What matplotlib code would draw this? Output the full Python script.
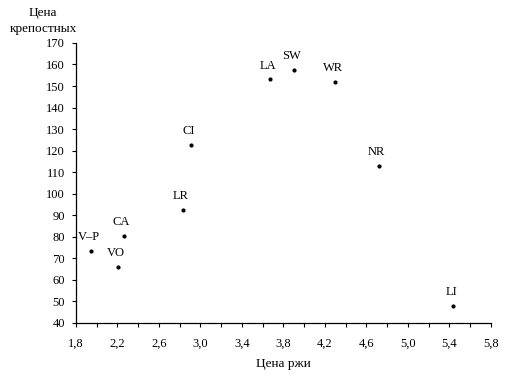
import matplotlib
matplotlib.use("Agg")
import matplotlib.pyplot as plt
from matplotlib.ticker import MultipleLocator, FixedLocator, FuncFormatter

# данные
regions = ["V–P", "VO", "CA", "LR", "CI", "LA", "SW", "WR", "NR", "LI"]
rye_price = [1.95, 2.21, 2.26, 2.83, 2.91, 3.67, 3.90, 4.30, 4.72, 5.44]
serf_price = [73.3, 66.0, 80.4, 92.6, 122.8, 153.1, 157.6, 151.9, 113.0, 47.8]
x_ticks = [1.8, 2.2, 2.6, 3.0, 3.4, 3.8, 4.2, 4.6, 5.0, 5.4, 5.8]

plt.rcParams["font.family"] = ["Liberation Serif", "DejaVu Serif"]

fig = plt.figure(figsize=(5.06, 3.77), dpi=100)
ax = fig.add_axes([0.150, 0.144, 0.820, 0.742])

ax.plot(rye_price, serf_price, "o", color="black", markersize=2.0, linestyle="none")

for name, x, y in zip(regions, rye_price, serf_price):
    ax.annotate(name, (x, y), xytext=(-1.5, 5.5), textcoords="offset points",
                ha="center", va="bottom", fontsize=9)

ax.set_xlim(1.8, 5.8)
ax.set_ylim(40, 170)
ax.xaxis.set_major_locator(FixedLocator(x_ticks))
ax.xaxis.set_minor_locator(MultipleLocator(0.2))
ax.yaxis.set_major_locator(MultipleLocator(10))
ax.xaxis.set_major_formatter(FuncFormatter(lambda v, p: f"{v:.1f}".replace(".", ",")))
ax.yaxis.set_major_formatter(FuncFormatter(lambda v, p: f"{v:.0f}"))

for s in ["top", "right"]:
    ax.spines[s].set_visible(False)
ax.spines["left"].set_linewidth(0.9)
ax.spines["bottom"].set_linewidth(0.9)
ax.tick_params(axis="both", which="both", direction="out", length=3, width=0.8, labelsize=9, pad=5)
ax.tick_params(axis="x", which="major", pad=8)

ax.set_xlabel("Цена ржи", fontsize=9.5, labelpad=6)
fig.text(0.152, 0.982, "Цена\nкрепостных", ha="right", va="top", fontsize=9.5,
         linespacing=1.45, multialignment="center")

fig.savefig("out.png", dpi=100)
